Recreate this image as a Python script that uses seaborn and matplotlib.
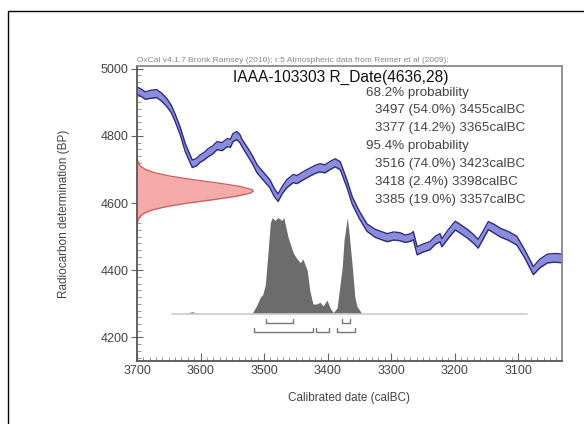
import matplotlib.pyplot as plt
import numpy as np
import pandas as pd
import seaborn as sns
from matplotlib.lines import Line2D
from matplotlib.ticker import MultipleLocator

# calibration curve (calBC, BP)
curve_cal = [3700, 3693, 3687, 3678, 3669, 3661, 3653, 3646, 3640, 3632, 3624, 3613,
             3606, 3601, 3594, 3588, 3581, 3574, 3566, 3558, 3553, 3549, 3543, 3538,
             3535, 3525, 3518, 3511, 3502, 3491, 3484, 3478, 3471, 3464, 3454, 3448,
             3443, 3435, 3428, 3420, 3412, 3404, 3396, 3388, 3380, 3370, 3361, 3350,
             3338, 3325, 3315, 3306, 3296, 3286, 3278, 3270, 3265, 3259, 3250, 3239,
             3230, 3223, 3220, 3210, 3199, 3190, 3180, 3170, 3163, 3155, 3147, 3138,
             3128, 3115, 3102, 3090, 3076, 3066, 3054, 3042, 3029]
curve_bp = [4935, 4928, 4920, 4924, 4926, 4915, 4899, 4880, 4854, 4815, 4765, 4717,
            4722, 4732, 4740, 4750, 4758, 4771, 4768, 4780, 4778, 4795, 4801, 4792,
            4780, 4750, 4728, 4702, 4682, 4658, 4632, 4616, 4640, 4658, 4673, 4670,
            4676, 4685, 4692, 4700, 4705, 4702, 4712, 4720, 4711, 4660, 4607, 4565,
            4527, 4510, 4503, 4497, 4502, 4500, 4494, 4497, 4503, 4458, 4466, 4473,
            4490, 4497, 4482, 4508, 4533, 4522, 4509, 4493, 4479, 4505, 4533, 4524,
            4512, 4502, 4488, 4450, 4399, 4420, 4435, 4437, 4435]
curve_err = [11, 11, 11, 12, 12, 12, 12, 11, 11, 11, 12, 11,
             11, 11, 11, 12, 12, 12, 12, 12, 12, 12, 12, 12,
             11, 12, 12, 12, 12, 12, 12, 11, 11, 12, 12, 12,
             12, 12, 12, 12, 12, 12, 12, 12, 12, 11, 11, 11,
             11, 12, 12, 12, 12, 12, 11, 11, 12, 12, 12, 12,
             12, 12, 12, 13, 13, 13, 13, 13, 13, 12, 12, 13,
             13, 13, 13, 12, 12, 13, 13, 13, 13]

# radiocarbon measurement R_Date(4636,28), relative likelihood
date_bp = [4530, 4540, 4550, 4560, 4570, 4580, 4590, 4600, 4610, 4620, 4630, 4636,
           4640, 4650, 4660, 4670, 4680, 4690, 4700, 4710, 4720, 4730, 4740]
date_prob = [0.001, 0.003, 0.009, 0.025, 0.062, 0.135, 0.259, 0.438, 0.650, 0.849, 0.977, 1.0,
             0.990, 0.882, 0.693, 0.478, 0.291, 0.156, 0.073, 0.030, 0.011, 0.004, 0.001]

# calibrated probability (relative)
post_cal = [3625, 3613, 3603, 3519, 3512, 3506, 3502, 3498, 3494, 3490, 3487, 3483,
            3478, 3472, 3469, 3462, 3454, 3448, 3443, 3439, 3432, 3428, 3423, 3417,
            3412, 3407, 3401, 3396, 3391, 3385, 3381, 3377, 3374, 3369, 3366, 3361,
            3357, 3354, 3346]
post_prob = [0.0, 0.02, 0.0, 0.0, 0.08, 0.17, 0.2, 0.3, 0.62, 0.95, 1.0, 0.97,
             1.0, 0.97, 1.0, 0.79, 0.63, 0.57, 0.53, 0.57, 0.45, 0.24, 0.10, 0.10,
             0.12, 0.08, 0.14, 0.06, 0.01, 0.06, 0.27, 0.48, 0.77, 1.0, 0.83, 0.48,
             0.17, 0.08, 0.0]
post_span = [3645, 3086]

range_68 = [(3497, 3455), (3377, 3365)]
range_95 = [(3516, 3423), (3418, 3398), (3385, 3357)]
prob_lines = ["68.2% probability", "3497 (54.0%) 3455calBC", "3377 (14.2%) 3365calBC",
              "95.4% probability", "3516 (74.0%) 3423calBC", "3418 (2.4%) 3398calBC",
              "3385 (19.0%) 3357calBC"]

sns.set_style("white")
plt.rcParams["font.family"] = ["Liberation Sans", "DejaVu Sans"]

fig = plt.figure(figsize=(5.84, 4.24), dpi=100)
ax = fig.add_axes([0.2346, 0.1486, 0.7277, 0.6957])

df = pd.DataFrame({"cal": curve_cal, "bp": curve_bp, "err": curve_err})
df["lo"] = df["bp"] - df["err"]
df["hi"] = df["bp"] + df["err"]
ax.fill_between(df["cal"], df["lo"], df["hi"], color="#8c8cdc", lw=0)
sns.lineplot(data=df, x="cal", y="lo", color="#2c2c80", lw=1.0, ax=ax, sort=False)
sns.lineplot(data=df, x="cal", y="hi", color="#2c2c80", lw=1.0, ax=ax, sort=False)

# measured date on the y axis
date_x = 3700 - 183 * np.array(date_prob)
ax.fill_betweenx(date_bp, 3700, date_x, color="#f5aaaa", lw=0)
ax.plot(date_x, date_bp, color="#d45a5a", lw=0.9)

# calibrated distribution
base = 4271
ax.plot(post_span, [base, base], color="#cccccc", lw=1.2)
post_top = base + 286 * np.array(post_prob)
ax.fill_between(post_cal, base, post_top, color="#6c6c6c", lw=0)

# range brackets
def bracket(a, b, y):
    ax.plot([a, a, b, b], [y + 12, y, y, y + 12], color="#777777", lw=1.0)

for a, b in range_68:
    bracket(a, b, 4244)
for a, b in range_95:
    bracket(a, b, 4217)

ax.set_xlim(3700, 3031)
ax.set_ylim(4130, 5008)
ax.xaxis.set_major_locator(MultipleLocator(100))
ax.xaxis.set_minor_locator(MultipleLocator(10))
ax.yaxis.set_major_locator(MultipleLocator(200))
ax.yaxis.set_minor_locator(MultipleLocator(20))
ax.tick_params(axis="x", which="major", direction="in", length=6, width=0.8,
               colors="#666666", labelcolor="#444444", labelsize=9, pad=3)
ax.tick_params(axis="x", which="minor", direction="in", length=3, width=0.6, colors="#888888")
ax.tick_params(axis="y", which="major", direction="inout", length=8, width=0.8,
               colors="#666666", labelcolor="#444444", labelsize=9, pad=2)
ax.tick_params(axis="y", which="minor", direction="in", length=3, width=0.6, colors="#888888")
ax.tick_params(bottom=True, left=True, which="both")

for side in ["left", "bottom"]:
    ax.spines[side].set_color("#555555")
    ax.spines[side].set_linewidth(1.3)
for side in ["top", "right"]:
    ax.spines[side].set_color("#888888")
    ax.spines[side].set_linewidth(1.3)

ax.set_xlabel("Calibrated date (calBC)", fontsize=8.5, color="#444444", labelpad=11)
ax.set_ylabel("Radiocarbon determination (BP)", fontsize=8.5, color="#444444", labelpad=22)

ax.text(0.48, 0.963, "IAAA-103303 R_Date(4636,28)", transform=ax.transAxes,
        ha="center", va="center", fontsize=11.2, color="#111111")
ys = [0.908, 0.851, 0.790, 0.729, 0.668, 0.607, 0.546]
for t, y in zip(prob_lines, ys):
    x = 0.539 if "probability" in t else 0.56
    ax.text(x, y, t, transform=ax.transAxes, ha="left", va="center",
            fontsize=9.6, color="#444444")

ax.text(0.0, 1.008, "OxCal v4.1.7 Bronk Ramsey (2010); r:5 Atmospheric data from Reimer et al (2009);",
        transform=ax.transAxes, ha="left", va="bottom", fontsize=6.0, color="#888888")

# outer frame (top and left edges)
fig.add_artist(Line2D([8 / 584, 1.0], [1 - 11 / 424, 1 - 11 / 424], color="black", lw=1.0))
fig.add_artist(Line2D([8 / 584, 8 / 584], [0.0, 1 - 11 / 424], color="black", lw=1.0))

fig.savefig("out.png", dpi=100)
